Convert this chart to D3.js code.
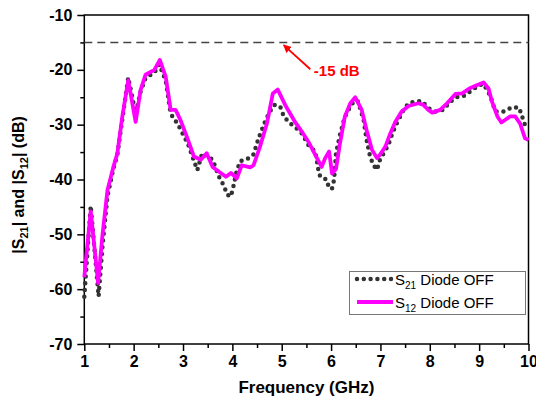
<!DOCTYPE html>
<html>
<head>
<meta charset="utf-8">
<script src="https://cdn.jsdelivr.net/npm/d3@7"></script>
<style>
body { margin: 0; background: #fff; }
text { font-family: "Liberation Sans", Arial, sans-serif; }
</style>
</head>
<body>
<div id="grafica"></div>
<script>
// S12 (magenta, solid)
var freq12 = [1.00,1.13,1.28,1.365,1.47,1.59,1.67,1.77,1.89,2.04,2.14,2.24,2.42,2.53,2.65,2.75,2.85,2.95,3.09,3.22,3.36,3.48,3.60,3.73,3.87,3.97,4.09,4.19,4.36,4.43,4.56,4.70,4.82,4.92,5.07,5.27,5.41,5.54,5.68,5.81,5.88,5.96,6.02,6.10,6.18,6.28,6.39,6.49,6.62,6.72,6.83,6.93,6.99,7.10,7.20,7.30,7.43,7.57,7.77,7.87,7.97,8.05,8.21,8.35,8.52,8.66,8.80,8.95,9.09,9.19,9.26,9.37,9.45,9.53,9.63,9.73,9.83,9.93,10.0];
var s12 = [-57.8,-45.8,-58.9,-50.4,-41.9,-37.7,-35.2,-28.5,-21.9,-29.5,-23.7,-20.9,-20.0,-18.2,-21.3,-27.3,-27.3,-29.2,-32.5,-35.8,-36.4,-35.2,-37.7,-38.6,-39.5,-38.8,-39.8,-37.4,-37.8,-37.4,-34.0,-29.8,-24.3,-23.6,-26.4,-29.5,-31.3,-33.1,-35.5,-37.7,-36.1,-34.9,-38.9,-38.1,-33.4,-28.5,-26.1,-25.0,-27.3,-31.0,-34.6,-36.1,-35.5,-34.0,-31.6,-29.5,-27.6,-26.6,-26.1,-26.4,-27.3,-27.8,-27.3,-26.1,-24.4,-24.3,-23.4,-22.8,-22.3,-23.4,-25.8,-28.5,-29.6,-29.1,-28.5,-28.5,-29.8,-32.5,-32.8];

// S21 (dark grey, dotted)
var freq21 = [1.00,1.13,1.29,1.37,1.47,1.59,1.67,1.77,1.89,2.04,2.14,2.24,2.42,2.52,2.65,2.75,2.90,3.10,3.29,3.39,3.50,3.60,3.73,3.82,3.90,3.97,4.02,4.09,4.17,4.30,4.43,4.53,4.66,4.76,4.85,4.97,5.03,5.13,5.27,5.41,5.54,5.68,5.74,5.78,5.91,5.96,6.02,6.06,6.10,6.18,6.27,6.37,6.47,6.55,6.66,6.72,6.79,6.86,6.93,6.99,7.16,7.23,7.31,7.47,7.57,7.70,7.84,7.97,8.11,8.28,8.39,8.54,8.68,8.84,8.99,9.09,9.22,9.33,9.49,9.68,9.81,9.87,9.93,10.0];
var s21 = [-61.4,-44.8,-61.3,-52.0,-43.0,-38.0,-35.5,-29.0,-21.4,-28.0,-24.0,-21.5,-20.5,-19.0,-22.0,-28.0,-30.0,-33.5,-38.3,-35.2,-35.8,-36.4,-39.5,-41.0,-42.8,-43.1,-41.3,-38.3,-36.6,-36.3,-35.4,-32.5,-29.5,-27.6,-26.4,-26.7,-28.2,-29.5,-30.4,-31.6,-33.7,-34.9,-38.1,-39.5,-40.0,-41.6,-41.6,-40.1,-35.2,-31.9,-28.8,-27.0,-25.6,-25.8,-29.2,-32.8,-35.8,-37.4,-38.2,-36.4,-33.7,-31.9,-30.1,-27.3,-26.1,-25.8,-25.7,-27.0,-27.6,-27.3,-26.0,-25.0,-24.8,-23.8,-22.8,-22.6,-24.6,-27.6,-27.6,-26.8,-26.9,-28.5,-30.1,-30.5];

var xTicks = [1,2,3,4,5,6,7,8,9,10];
var yTicks = [-70,-60,-50,-40,-30,-20,-10];
var refLevel = -15;

var svg = d3.select("#grafica")
	.append("svg")
	.attr("width", 536)
	.attr("height", 404);

var x = d3.scaleLinear().domain([1, 10]).range([84.3, 528.5]);
var y = d3.scaleLinear().domain([-70, -10]).range([344, 15]);

// minor ticks
svg.append("g")
	.attr("transform", "translate(0," + y(-70) + ")")
	.call(d3.axisBottom(x).tickValues(d3.range(1.5, 10, 1)).tickSize(4).tickFormat(""))
	.call(g => g.select(".domain").remove());
svg.append("g")
	.attr("transform", "translate(" + x(1) + ",0)")
	.call(d3.axisLeft(y).tickValues(d3.range(-65, -10, 10)).tickSize(4).tickFormat(""))
	.call(g => g.select(".domain").remove());

var xAxis = svg.append("g")
	.attr("transform", "translate(0," + y(-70) + ")")
	.call(d3.axisBottom(x).tickValues(xTicks).tickSize(7).tickSizeOuter(0).tickPadding(5).tickFormat(d => String(d)));
xAxis.selectAll("text").attr("font-size", 16).attr("font-weight", "bold").attr("fill", "#000");

var yAxis = svg.append("g")
	.attr("transform", "translate(" + x(1) + ",0)")
	.call(d3.axisLeft(y).tickValues(yTicks).tickSize(7).tickSizeOuter(0).tickPadding(5).tickFormat(d => String(d)));
yAxis.selectAll("text").attr("font-size", 16).attr("font-weight", "bold").attr("fill", "#000");

svg.selectAll(".tick line").attr("stroke-width", 1.5);
svg.selectAll(".domain").remove();

// frame
svg.append("rect")
	.attr("x", x(1))
	.attr("y", y(-10))
	.attr("width", x(10) - x(1))
	.attr("height", y(-70) - y(-10))
	.attr("fill", "none")
	.attr("stroke", "#000")
	.attr("stroke-width", 1.5);

// -15 dB reference
svg.append("line")
	.attr("x1", x(1)).attr("x2", x(10))
	.attr("y1", y(refLevel)).attr("y2", y(refLevel))
	.attr("stroke", "#444")
	.attr("stroke-width", 1.5)
	.attr("stroke-dasharray", "8,5");

var linea = d3.line().x(d => x(d[0])).y(d => y(d[1]));

svg.append("path")
	.datum(d3.zip(freq21, s21))
	.attr("d", linea)
	.attr("fill", "none")
	.attr("stroke", "#333")
	.attr("stroke-width", 4.5)
	.attr("stroke-linecap", "round")
	.attr("stroke-dasharray", "0,6.8");

svg.append("path")
	.datum(d3.zip(freq12, s12))
	.attr("d", linea)
	.attr("fill", "none")
	.attr("stroke", "#ff00ff")
	.attr("stroke-width", 3.8)
	.attr("stroke-linejoin", "round");

// annotation
svg.append("defs").append("marker")
	.attr("id", "flecha")
	.attr("viewBox", "0 0 10 10")
	.attr("refX", 9).attr("refY", 5)
	.attr("markerWidth", 4.5).attr("markerHeight", 4.5)
	.attr("orient", "auto")
	.append("path")
	.attr("d", "M0,0L10,5L0,10z")
	.attr("fill", "#ff0000");

svg.append("line")
	.attr("x1", x(5.58)).attr("y1", y(-19.9))
	.attr("x2", x(5.04)).attr("y2", y(-15.5))
	.attr("stroke", "#ff0000")
	.attr("stroke-width", 1.8)
	.attr("marker-end", "url(#flecha)");

svg.append("text")
	.attr("x", x(5.65))
	.attr("y", y(-21.1))
	.attr("font-size", 15)
	.attr("font-weight", "bold")
	.attr("fill", "#ff0000")
	.text("-15 dB");

// axis titles
svg.append("text")
	.attr("x", (x(1) + x(10)) / 2)
	.attr("y", 393)
	.attr("text-anchor", "middle")
	.attr("font-size", 17)
	.attr("font-weight", "bold")
	.text("Frequency (GHz)");

var ytit = svg.append("text")
	.attr("transform", "translate(24," + (y(-41)) + ") rotate(-90)")
	.attr("text-anchor", "middle")
	.attr("font-size", 16)
	.attr("font-weight", "bold");
ytit.append("tspan").text("|S");
ytit.append("tspan").attr("font-size", 11).attr("dy", 4).text("21");
ytit.append("tspan").attr("dy", -4).text("| and |S");
ytit.append("tspan").attr("font-size", 11).attr("dy", 4).text("12");
ytit.append("tspan").attr("dy", -4).text("| (dB)");

// legend
var ley = svg.append("g");
ley.append("rect")
	.attr("x", 349.5).attr("y", 271.5)
	.attr("width", 176).attr("height", 43)
	.attr("fill", "#fff")
	.attr("stroke", "#777")
	.attr("stroke-width", 1);

var items = [
	{sub: "21", color: "#333", dash: "0,6.8", w: 4.5, cap: "round"},
	{sub: "12", color: "#ff00ff", dash: null, w: 3.8, cap: "butt"}
];
items.forEach(function(it, i) {
	var ly = 279 + i * 23;
	ley.append("line")
		.attr("x1", 357).attr("x2", 393)
		.attr("y1", ly).attr("y2", ly)
		.attr("stroke", it.color)
		.attr("stroke-width", it.w)
		.attr("stroke-linecap", it.cap)
		.attr("stroke-dasharray", it.dash);
	var t = ley.append("text")
		.attr("x", 395)
		.attr("y", ly + 6)
		.attr("font-size", 15);
	t.append("tspan").text("S");
	t.append("tspan").attr("font-size", 10).attr("dy", 4).text(it.sub);
	t.append("tspan").attr("dy", -4).text(" Diode OFF");
});
</script>
</body>
</html>
